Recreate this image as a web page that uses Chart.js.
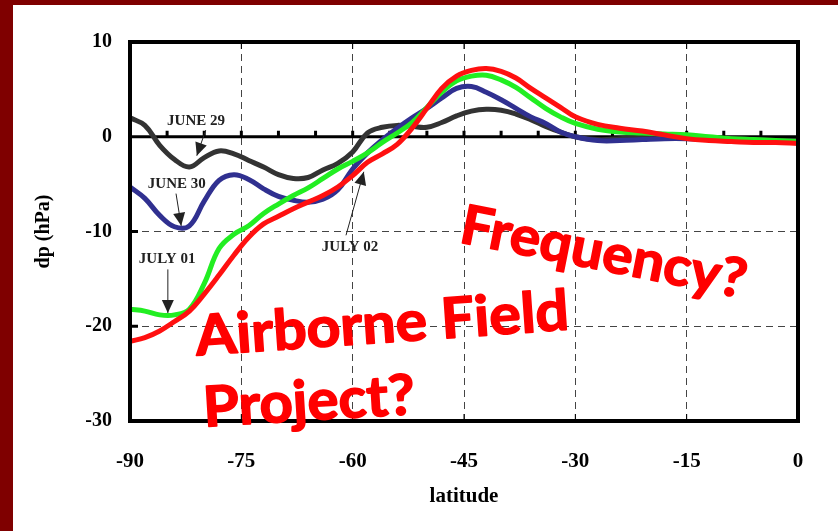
<!DOCTYPE html>
<html>
<head>
<meta charset="utf-8">
<script src="https://cdn.jsdelivr.net/npm/chart.js@4.4.1/dist/chart.umd.min.js"></script>
<style>
  html, body { margin: 0; padding: 0; background: #7f0000; }
  #wrap { position: absolute; left: 13px; top: 5px; width: 825px; height: 526px; background: #fff; }
</style>
</head>
<body>
<div id="wrap"><canvas id="chart" width="825" height="526"></canvas></div>
<script>
// latitude grid the curves were read at
const latitude = [-90, -88, -86, -84, -82, -80, -78, -76, -74, -72, -70, -68, -66, -64, -62, -60, -58, -56, -54, -52,
  -50, -48, -46, -44, -42, -40, -38, -36, -34, -32, -30, -27, -24, -21, -18, -15, -12, -9, -6, -3, 0];

const june29 = [2.0, 1.2, -0.9, -2.4, -3.2, -2.2, -1.5, -1.8, -2.5, -3.2, -4.0, -4.4, -4.3, -3.5, -2.8, -1.6, 0.4, 1.0, 1.2, 1.1,
  1.0, 1.5, 2.2, 2.7, 2.9, 2.8, 2.4, 1.8, 1.1, 0.5, 0.0, -0.3, -0.2, 0.0, 0.1, 0.0, -0.1, -0.2, -0.3, -0.4, -0.4];
const june30 = [-5.3, -6.5, -8.3, -9.5, -9.4, -6.8, -4.6, -4.0, -4.5, -5.5, -6.3, -6.7, -6.9, -6.6, -5.6, -3.4, -1.7, -0.3, 0.9, 2.0,
  3.0, 4.1, 5.1, 5.3, 4.7, 3.9, 3.0, 2.1, 1.4, 0.5, 0.0, -0.4, -0.4, -0.3, -0.2, -0.2, -0.3, -0.4, -0.5, -0.5, -0.6];
const july01 = [-18.2, -18.4, -18.8, -18.8, -18.2, -15.5, -11.8, -10.3, -9.4, -8.1, -7.1, -6.2, -5.4, -4.4, -3.4, -2.6, -1.7, -0.6, 0.4, 1.5,
  3.1, 4.7, 5.9, 6.4, 6.5, 6.0, 5.2, 4.1, 3.0, 2.1, 1.4, 0.8, 0.5, 0.4, 0.3, 0.2, 0.0, -0.2, -0.3, -0.4, -0.5];
const july02 = [-21.6, -21.2, -20.5, -19.5, -18.4, -16.6, -14.6, -12.5, -10.6, -9.2, -8.4, -7.6, -6.9, -6.2, -5.3, -4.1, -2.7, -1.8, -0.8, 0.9,
  3.0, 5.1, 6.4, 7.0, 7.2, 6.9, 6.2, 5.1, 4.1, 3.1, 2.1, 1.3, 0.9, 0.6, 0.2, -0.2, -0.4, -0.5, -0.6, -0.6, -0.7];

const xTicks = [-90, -75, -60, -45, -30, -15, 0];
const yTicks = [-30, -20, -10, 0, 10];

// date labels with arrows, in data units [lat, dp]
const dateNotes = [
  { text: "JUNE 29", at: [-81.1, 1.7], from: [-79.8, 0.7], to: [-81.0, -2.0] },
  { text: "JUNE 30", at: [-83.7, -5.05], from: [-83.8, -6.0], to: [-83.1, -9.4] },
  { text: "JULY 01", at: [-85.0, -12.9], from: [-84.9, -14.0], to: [-84.9, -18.6] },
  { text: "JULY 02", at: [-60.35, -11.7], from: [-60.9, -10.4], to: [-58.5, -3.7] }
];

// red slide remarks: baseline start [lat, dp], angle, target width
const remarks = [
  { text: "Frequency?", at: [-45.8, -11.1], angle: 11.2, size: 54, width: 290 },
  { text: "Airborne Field", at: [-81.0, -23.1], angle: -4, size: 56, width: 374 },
  { text: "Project?", at: [-80.0, -30.6], angle: -3.5, size: 56, width: 212 }
];

const serif = '"Liberation Serif", "Times New Roman", serif';

function series(values) {
  return latitude.map((lat, i) => ({ x: lat, y: values[i] }));
}

function line(label, values, color) {
  return {
    label: label,
    data: series(values),
    borderColor: color,
    borderWidth: 5,
    pointRadius: 0,
    tension: 0.4,
    fill: false
  };
}

const framePlugin = {
  id: "frame",
  beforeDatasetsDraw(chart) {
    const { ctx, chartArea: a, scales: { x, y } } = chart;
    const y0 = y.getPixelForValue(0);
    ctx.save();
    ctx.strokeStyle = "#000";
    ctx.lineWidth = 3;
    ctx.beginPath();
    ctx.moveTo(a.left, y0);
    ctx.lineTo(a.right, y0);
    ctx.stroke();
    // small marks on the zero line every 5 degrees
    for (let lat = -85; lat <= -5; lat += 5) {
      const px = x.getPixelForValue(lat);
      ctx.beginPath();
      ctx.moveTo(px, y0);
      ctx.lineTo(px, y0 - 6);
      ctx.stroke();
    }
    ctx.restore();
  },
  afterDatasetsDraw(chart) {
    const { ctx, chartArea: a, scales: { x, y } } = chart;
    ctx.save();
    ctx.strokeStyle = "#000";
    ctx.lineWidth = 1;
    xTicks.slice(1, -1).forEach((lat) => {
      const px = x.getPixelForValue(lat);
      ctx.beginPath();
      ctx.moveTo(px, a.top);
      ctx.lineTo(px, a.top + 7);
      ctx.moveTo(px, a.bottom);
      ctx.lineTo(px, a.bottom - 7);
      ctx.stroke();
    });
    ctx.lineWidth = 3;
    [-10, -20].forEach((v) => {
      const py = y.getPixelForValue(v);
      ctx.beginPath();
      ctx.moveTo(a.left, py);
      ctx.lineTo(a.left + 8, py);
      ctx.stroke();
    });
    ctx.lineWidth = 4;
    ctx.strokeRect(a.left, a.top, a.right - a.left, a.bottom - a.top);
    ctx.restore();
  },
  afterDraw(chart) {
    const { ctx, scales: { x, y } } = chart;
    const px = (p) => [x.getPixelForValue(p[0]), y.getPixelForValue(p[1])];
    ctx.save();
    ctx.fillStyle = "#222";
    ctx.strokeStyle = "#222";
    ctx.font = "bold 15px " + serif;
    ctx.textAlign = "center";
    ctx.textBaseline = "middle";
    dateNotes.forEach((n) => {
      const [tx, ty] = px(n.at);
      ctx.fillText(n.text, tx, ty);
      const [x1, y1] = px(n.from);
      const [x2, y2] = px(n.to);
      const ang = Math.atan2(y2 - y1, x2 - x1);
      ctx.lineWidth = 1;
      ctx.beginPath();
      ctx.moveTo(x1, y1);
      ctx.lineTo(x2, y2);
      ctx.stroke();
      ctx.beginPath();
      ctx.moveTo(x2, y2);
      ctx.lineTo(x2 - 13 * Math.cos(ang) + 6 * Math.sin(ang), y2 - 13 * Math.sin(ang) - 6 * Math.cos(ang));
      ctx.lineTo(x2 - 13 * Math.cos(ang) - 6 * Math.sin(ang), y2 - 13 * Math.sin(ang) + 6 * Math.cos(ang));
      ctx.closePath();
      ctx.fill();
    });
    ctx.restore();

    remarks.forEach((r) => {
      const [bx, by] = px(r.at);
      ctx.save();
      ctx.font = "bold " + r.size + "px Lato";
      const w = ctx.measureText(r.text).width;
      ctx.translate(bx, by);
      ctx.rotate(r.angle * Math.PI / 180);
      ctx.scale(r.width / w, 1);
      ctx.fillStyle = "#ff0000";
      ctx.strokeStyle = "#ff0000";
      ctx.lineWidth = 1.6;
      ctx.lineJoin = "round";
      ctx.textAlign = "left";
      ctx.textBaseline = "alphabetic";
      ctx.fillText(r.text, 0, 0);
      ctx.strokeText(r.text, 0, 0);
      ctx.restore();
    });
  }
};

new Chart(document.getElementById("chart"), {
  type: "line",
  data: {
    datasets: [
      line("JULY 02", july02, "#ff1010"),
      line("JULY 01", july01, "#22ee22"),
      line("JUNE 30", june30, "#303090"),
      line("JUNE 29", june29, "#333333")
    ]
  },
  options: {
    responsive: false,
    animation: false,
    devicePixelRatio: 1,
    layout: { padding: { top: 37, right: 40, left: 0, bottom: 0 } },
    plugins: { legend: { display: false }, tooltip: { enabled: false } },
    scales: {
      x: {
        type: "linear",
        min: -90,
        max: 0,
        afterBuildTicks: (s) => { s.ticks = xTicks.map((v) => ({ value: v })); },
        afterFit: (s) => { s.height = 110; },
        ticks: { color: "#000", padding: 28, font: { family: serif, size: 21, weight: "bold" } },
        grid: {
          drawTicks: false,
          lineWidth: 1,
          color: (c) => (c.tick && c.tick.value > -90 && c.tick.value < 0 ? "#444" : "rgba(0,0,0,0)")
        },
        border: { display: false, dash: [7, 5] },
        title: {
          display: true,
          text: "latitude",
          color: "#000",
          padding: { top: 0, bottom: 22 },
          font: { family: serif, size: 21, weight: "bold" }
        }
      },
      y: {
        min: -30,
        max: 10,
        afterBuildTicks: (s) => { s.ticks = yTicks.map((v) => ({ value: v })); },
        afterFit: (s) => { s.width = 117; },
        ticks: { color: "#000", padding: 18, font: { family: serif, size: 20, weight: "bold" } },
        grid: {
          drawTicks: false,
          lineWidth: 1,
          color: (c) => (c.tick && (c.tick.value === -10 || c.tick.value === -20) ? "#444" : "rgba(0,0,0,0)")
        },
        border: { display: false, dash: [7, 5] },
        title: {
          display: true,
          text: "dp (hPa)",
          color: "#000",
          padding: { top: 19, bottom: 0 },
          font: { family: serif, size: 20, weight: "bold" }
        }
      }
    }
  },
  plugins: [framePlugin]
});
</script>
</body>
</html>
